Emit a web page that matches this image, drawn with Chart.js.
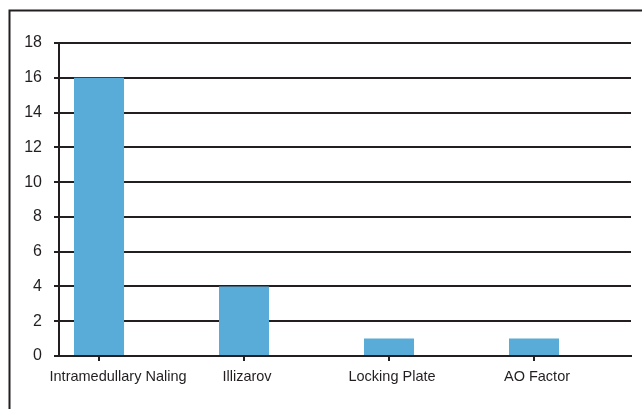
<!DOCTYPE html>
<html>
<head>
<meta charset="utf-8">
<script src="https://cdn.jsdelivr.net/npm/chart.js@4"></script>
<style>
  html, body { margin: 0; padding: 0; background: #fff; }
  #wrap { width: 642px; height: 409px; }
</style>
</head>
<body>
<div id="wrap"><canvas id="myCanvas" width="642" height="409"></canvas></div>
<script>
'use strict';

const categories = ['Intramedullary Naling', 'Illizarov', 'Locking Plate', 'AO Factor'];
const counts = [16, 4, 1, 1];
const yTicks = [0, 2, 4, 6, 8, 10, 12, 14, 16, 18];

const ink = '#231f20';

// the picture is cut from a larger page: only top and left edge of a frame show
const framePlugin = {
  id: 'frame',
  beforeDraw(chart) {
    const c = chart.ctx;
    c.save();
    c.strokeStyle = ink;
    c.lineWidth = 2;
    c.beginPath();
    c.moveTo(9.5, 409);
    c.lineTo(9.5, 10.5);
    c.lineTo(642, 10.5);
    c.stroke();
    c.restore();
  }
};

// category names under the ticks; the first one sits a bit right of its tick
// like in the original, so they are drawn here instead of by the axis
const xLabelPlugin = {
  id: 'xLabels',
  afterDraw(chart) {
    const xs = chart.scales.x;
    const c = chart.ctx;
    c.save();
    c.font = '14.5px "Liberation Sans"';
    c.fillStyle = ink;
    c.textAlign = 'center';
    c.textBaseline = 'middle';
    categories.forEach((name, i) => {
      let x = xs.getPixelForValue(i) + 3;
      if (i === 0) x += 16;
      c.fillText(name, x, xs.top + 21);
    });
    c.restore();
  }
};

const ctx = document.getElementById('myCanvas').getContext('2d');

new Chart(ctx, {
  type: 'bar',
  data: {
    datasets: [{
      data: counts.map((v, i) => ({ x: i, y: v })),
      backgroundColor: '#5aacd8',
      borderWidth: 0,
      barPercentage: 0.345,
      categoryPercentage: 1
    }]
  },
  options: {
    responsive: false,
    animation: false,
    layout: { padding: { top: 43, right: 11, left: 0, bottom: 0 } },
    plugins: { legend: { display: false }, tooltip: { enabled: false } },
    scales: {
      x: {
        type: 'linear',
        offset: false,
        min: -0.276,
        max: 3.669,
        afterBuildTicks: s => { s.ticks = categories.map((c, i) => ({ value: i })); },
        afterFit: s => { s.height = 53; },
        grid: { offset: false, drawOnChartArea: false, drawTicks: true, tickLength: 5, color: ink, lineWidth: 2 },
        border: { display: true, color: ink, width: 2 },
        ticks: {
          callback: () => '',
          autoSkip: false
        }
      },
      y: {
        min: 0,
        max: 18,
        afterBuildTicks: s => { s.ticks = yTicks.map(v => ({ value: v })); },
        afterFit: s => { s.width = 59; },
        grid: { color: ink, lineWidth: 2, drawTicks: true, tickLength: 5 },
        border: { display: true, color: ink, width: 2 },
        ticks: {
          color: ink,
          padding: 12,
          font: { family: 'Liberation Sans', size: 16 }
        }
      }
    }
  },
  plugins: [framePlugin, xLabelPlugin]
});
</script>
</body>
</html>
